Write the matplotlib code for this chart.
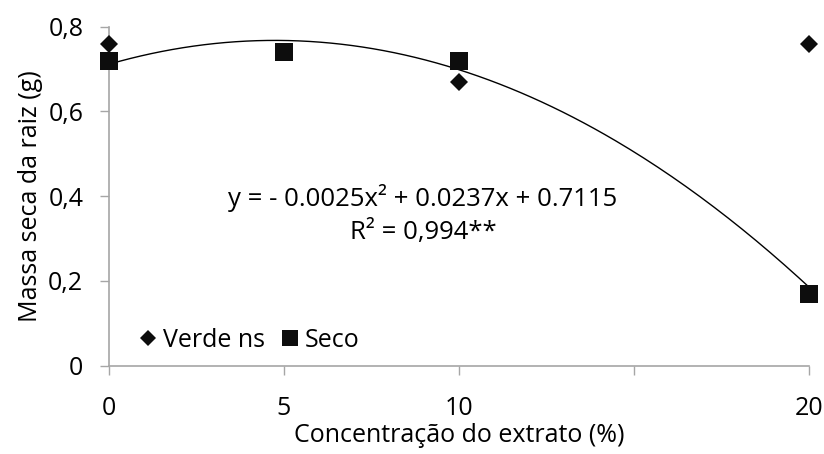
import numpy as np
import matplotlib.pyplot as plt

plt.rcParams['font.family'] = ['Open Sans', 'DejaVu Sans']

# data
conc = [0, 5, 10, 20]
verde = [0.76, 0.74, 0.67, 0.76]
seco = [0.72, 0.74, 0.72, 0.17]
coef = [-0.0025, 0.0237, 0.7115]

xticks = [0, 5, 10, 15, 20]
xticklabels = ['0', '5', '10', '', '20']
yticks = [0, 0.2, 0.4, 0.6, 0.8]
yticklabels = ['0', '0,2', '0,4', '0,6', '0,8']

fig = plt.figure(figsize=(8.24, 4.54), dpi=100)
ax = fig.add_axes([109 / 824, 1 - 365.7 / 454, 700 / 824, 339 / 454])

xs = np.linspace(0, 20, 200)
ax.plot(xs, np.polyval(coef, xs), color='black', lw=1.0, zorder=2)
ax.plot(conc, verde, 'D', color='#0d0d0d', ms=9.5, mew=0, label='Verde ns',
        zorder=3, clip_on=False)
ax.plot(conc, seco, 's', color='#0d0d0d', ms=12.5, mew=0, label='Seco',
        zorder=4, clip_on=False)

ax.set_xlim(0, 20)
ax.set_ylim(0, 0.8)
ax.set_xticks(xticks)
ax.set_xticklabels(xticklabels)
ax.set_yticks(yticks)
ax.set_yticklabels(yticklabels)

for s in ['top', 'right']:
    ax.spines[s].set_visible(False)
for s in ['left', 'bottom']:
    ax.spines[s].set_color('#a6a6a6')
    ax.spines[s].set_linewidth(1.2)
ax.tick_params(direction='out', length=6.5, width=1, color='#a6a6a6',
               labelsize=18, labelcolor='#000000', pad=12)
ax.tick_params(axis='x', pad=15)

ax.set_xlabel('Concentração do extrato (%)', fontsize=18, labelpad=2)
ax.set_ylabel('Massa seca da raiz (g)', fontsize=18, labelpad=4)

ax.text(8.97, 0.357, 'y = - 0.0025x² + 0.0237x + 0.7115\nR² = 0,994**',
        ha='center', va='center', multialignment='center', fontsize=18.5,
        linespacing=1.45)

ax.legend(loc='lower left', bbox_to_anchor=(0.02, 0.0), ncol=2, frameon=False,
          fontsize=18, handletextpad=0.1, columnspacing=0.5, handlelength=1.0,
          borderpad=0.2, borderaxespad=0.3, markerscale=0.9)

fig.savefig('out.png', dpi=100)
